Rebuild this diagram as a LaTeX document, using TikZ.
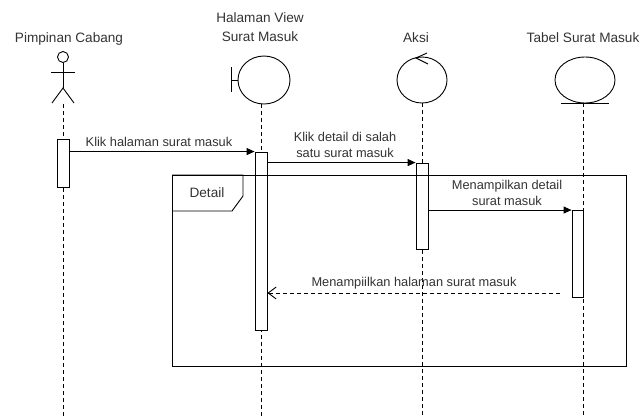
\documentclass[tikz,border=0pt]{standalone}
\usepackage{fontspec}
\setmainfont{Liberation Sans}
\usetikzlibrary{arrows.meta}
\begin{document}
\begin{tikzpicture}[x=1pt, y=-1pt, line width=0.9pt,
	life/.style={dashed, dash pattern=on 4pt off 3pt, line width=0.8pt},
	actbox/.style={draw, fill=white, minimum width=12pt, inner sep=0pt},
	msg/.style={-{Triangle[length=8pt,width=7pt]}},
	ret/.style={dashed, dash pattern=on 4pt off 3pt, -{Straight Barb[length=8pt,width=12pt]}},
	hlabel/.style={font=\fontsize{13.6}{19.5}\selectfont, text=black!80, align=center, inner sep=0pt},
	mlabel/.style={font=\fontsize{12.8}{16}\selectfont, text=black!80, align=center, inner sep=0pt}]
	\useasboundingbox (0,0) rectangle (644,416);

	% 1. judul objek
	\node[hlabel] (pimpinan) at (69,39) {Pimpinan Cabang};
	\node[hlabel] (halaman) at (260,27) {Halaman View\\Surat Masuk};
	\node[hlabel] (aksi) at (416,38) {Aksi};
	\node[hlabel] (tabel) at (583,38) {Tabel Surat Masuk};

	% 2. simbol actor, boundary, control, entity
	\draw (63,57) circle (5.5);
	\draw (63,62.5) -- (63,88);
	\draw (51,72) -- (75,72);
	\draw (52,103) -- (63,88) -- (74,103);
	\draw (264,80) ellipse (26 and 24);
	\draw (231,67) -- (231,92);
	\draw (231,80) -- (238,80);
	\draw (422,80) ellipse (25 and 23);
	\draw (427,53) -- (416,58) -- (428,64);
	\draw (585,80) ellipse (30 and 23);
	\draw (561,103) -- (609,103);

	% 3. lifeline
	\draw[life] (63,104) -- (63,416);
	\draw[life] (261,104) -- (261,416);
	\draw[life] (422,103) -- (422,416);
	\draw[life] (583,103) -- (583,416);

	% 4. activation
	\node[actbox, minimum height=48pt] (a1) at (63,163) {};
	\node[actbox, minimum height=178pt] (b1) at (261,241) {};
	\node[actbox, minimum height=86pt] (c1) at (422,206) {};
	\node[actbox, minimum height=87pt, minimum width=11pt] (d1) at (577.5,254) {};

	% 5. frame Detail
	\draw (172,175) rectangle (626,366);
	\draw (172,175) -- (243,175) -- (243,196) -- (232,211) -- (172,211);
	\node[hlabel] (detail) at (207,193) {Detail};

	% 6. pesan
	\draw[msg] (a1.east |- b1.north) -- (b1.north west);
	\node[mlabel] (m1) at (159,142) {Klik halaman surat masuk};
	\draw[msg] (b1.east |- c1.north) -- (c1.north west);
	\node[mlabel] (m2) at (345,145) {Klik detail di salah\\ satu surat masuk};
	\draw[msg] (c1.east |- d1.north) -- (d1.north west);
	\node[mlabel] (m3) at (507,193) {Menampilkan detail\\surat masuk};
	\coordinate (r4) at (560,293);
	\draw[ret] (r4) -- (b1.east |- r4);
	\node[mlabel] (m4) at (414,283) {Menampiilkan halaman surat masuk};
\end{tikzpicture}
\end{document}
